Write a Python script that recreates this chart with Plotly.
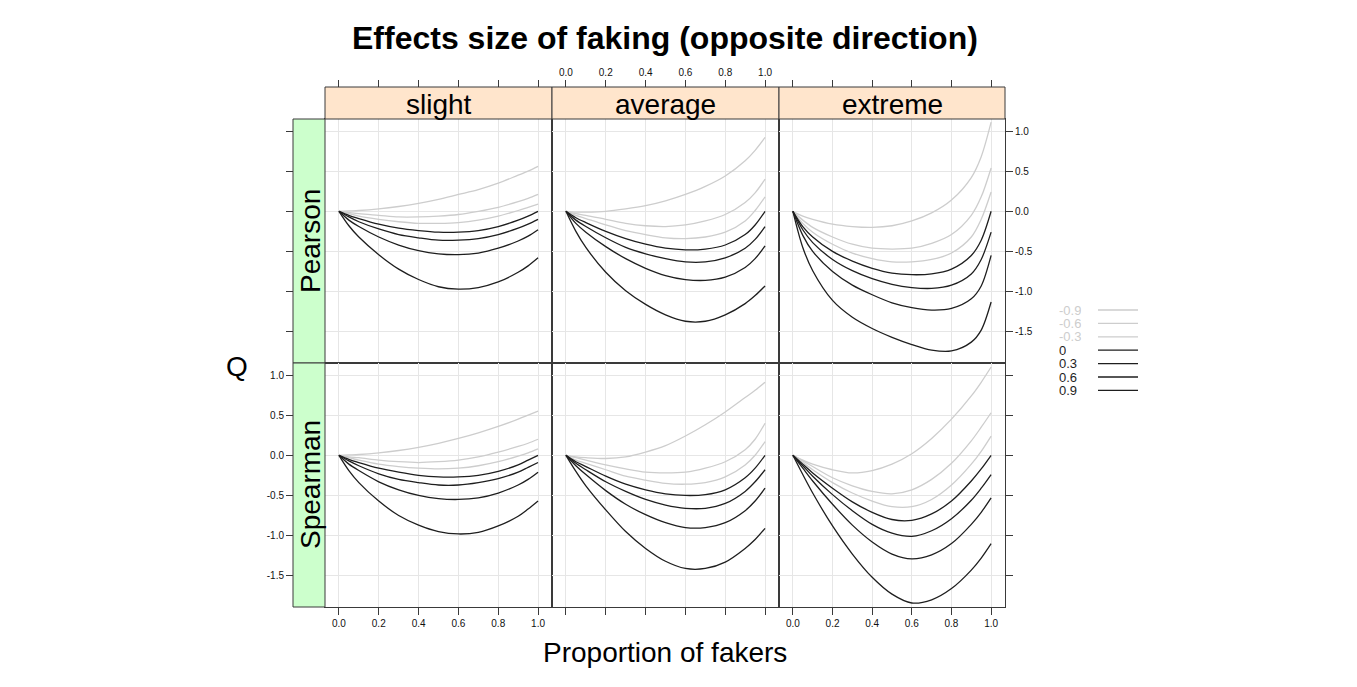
import plotly.graph_objects as go

W, H = 1357, 687
OFF = 8  # default page body margin
WF, HF = W - 2 * OFF, H - 2 * OFF

# ---------------- data ----------------
x_vals = [0, 0.05, 0.1, 0.2, 0.3, 0.4, 0.5, 0.6, 0.7, 0.8, 0.9, 0.95, 1.0]
levels = ["-0.9", "-0.6", "-0.3", "0", "0.3", "0.6", "0.9"]
columns = ["slight", "average", "extreme"]
rows = ["Pearson", "Spearman"]
x_ticks = [0.0, 0.2, 0.4, 0.6, 0.8, 1.0]
x_tick_text = ["0.0", "0.2", "0.4", "0.6", "0.8", "1.0"]
y_ticks = [-1.5, -1.0, -0.5, 0.0, 0.5, 1.0]
y_tick_text = ["-1.5", "-1.0", "-0.5", "0.0", "0.5", "1.0"]

# Pearson / slight
ps_n09 = [0, 0.005, 0.01, 0.03, 0.06, 0.10, 0.15, 0.21, 0.27, 0.35, 0.45, 0.50, 0.56]
ps_n06 = [0, -0.015, -0.03, -0.05, -0.07, -0.07, -0.06, -0.04, 0.0, 0.05, 0.12, 0.16, 0.21]
ps_n03 = [0, -0.03, -0.06, -0.10, -0.13, -0.15, -0.15, -0.14, -0.11, -0.06, 0.01, 0.05, 0.09]
ps_p00 = [0, -0.05, -0.09, -0.16, -0.21, -0.24, -0.26, -0.26, -0.24, -0.19, -0.11, -0.06, 0.0]
ps_p03 = [0, -0.07, -0.13, -0.22, -0.29, -0.33, -0.36, -0.36, -0.34, -0.29, -0.21, -0.16, -0.10]
ps_p06 = [0, -0.11, -0.19, -0.32, -0.42, -0.49, -0.53, -0.54, -0.52, -0.46, -0.37, -0.31, -0.23]
ps_p09 = [0, -0.18, -0.32, -0.54, -0.72, -0.85, -0.94, -0.97, -0.95, -0.88, -0.76, -0.68, -0.58]

# Pearson / average
pa_n09 = [0, -0.01, -0.01, 0.0, 0.03, 0.07, 0.13, 0.21, 0.31, 0.44, 0.63, 0.76, 0.92]
pa_n06 = [0, -0.03, -0.05, -0.10, -0.15, -0.18, -0.19, -0.17, -0.12, -0.04, 0.11, 0.23, 0.40]
pa_n03 = [0, -0.05, -0.09, -0.17, -0.24, -0.29, -0.33, -0.34, -0.32, -0.26, -0.12, 0.01, 0.18]
pa_p00 = [0, -0.08, -0.14, -0.25, -0.34, -0.41, -0.46, -0.48, -0.47, -0.42, -0.29, -0.17, 0.0]
pa_p03 = [0, -0.11, -0.19, -0.33, -0.45, -0.53, -0.59, -0.63, -0.63, -0.58, -0.46, -0.35, -0.19]
pa_p06 = [0, -0.15, -0.26, -0.44, -0.59, -0.71, -0.80, -0.85, -0.86, -0.82, -0.70, -0.59, -0.43]
pa_p09 = [0, -0.25, -0.45, -0.76, -0.99, -1.16, -1.29, -1.37, -1.37, -1.29, -1.15, -1.05, -0.93]

# Pearson / extreme
pe_n09 = [0, -0.06, -0.10, -0.16, -0.19, -0.20, -0.18, -0.12, -0.02, 0.14, 0.42, 0.68, 1.11]
pe_n06 = [0, -0.11, -0.20, -0.32, -0.41, -0.46, -0.47, -0.46, -0.40, -0.29, -0.05, 0.18, 0.54]
pe_n03 = [0, -0.15, -0.26, -0.41, -0.52, -0.59, -0.63, -0.63, -0.60, -0.52, -0.32, -0.10, 0.24]
pe_p00 = [0, -0.19, -0.32, -0.50, -0.62, -0.71, -0.77, -0.79, -0.78, -0.72, -0.55, -0.36, 0.0]
pe_p03 = [0, -0.23, -0.39, -0.60, -0.74, -0.84, -0.91, -0.95, -0.96, -0.92, -0.78, -0.60, -0.26]
pe_p06 = [0, -0.30, -0.50, -0.75, -0.92, -1.04, -1.14, -1.20, -1.23, -1.21, -1.09, -0.93, -0.55]
pe_p09 = [0, -0.45, -0.74, -1.11, -1.32, -1.46, -1.57, -1.66, -1.73, -1.74, -1.63, -1.48, -1.13]

# Spearman / slight
ss_n09 = [0, 0.005, 0.01, 0.03, 0.06, 0.10, 0.15, 0.21, 0.28, 0.36, 0.45, 0.50, 0.55]
ss_n06 = [0, -0.02, -0.03, -0.06, -0.08, -0.09, -0.08, -0.06, -0.02, 0.04, 0.11, 0.15, 0.20]
ss_n03 = [0, -0.03, -0.06, -0.11, -0.14, -0.16, -0.17, -0.16, -0.13, -0.08, -0.01, 0.03, 0.08]
ss_p00 = [0, -0.05, -0.09, -0.16, -0.21, -0.25, -0.27, -0.27, -0.25, -0.20, -0.12, -0.06, 0.0]
ss_p03 = [0, -0.07, -0.13, -0.23, -0.30, -0.34, -0.37, -0.37, -0.34, -0.29, -0.21, -0.15, -0.09]
ss_p06 = [0, -0.11, -0.19, -0.33, -0.43, -0.50, -0.54, -0.55, -0.53, -0.47, -0.37, -0.30, -0.21]
ss_p09 = [0, -0.19, -0.34, -0.57, -0.75, -0.87, -0.95, -0.98, -0.96, -0.88, -0.76, -0.67, -0.57]

# Spearman / average
sa_n09 = [0, -0.02, -0.03, -0.04, -0.02, 0.04, 0.12, 0.24, 0.38, 0.54, 0.72, 0.81, 0.91]
sa_n06 = [0, -0.03, -0.06, -0.12, -0.17, -0.21, -0.22, -0.21, -0.16, -0.08, 0.07, 0.20, 0.40]
sa_n03 = [0, -0.06, -0.10, -0.18, -0.26, -0.31, -0.35, -0.36, -0.34, -0.27, -0.12, 0.0, 0.17]
sa_p00 = [0, -0.08, -0.14, -0.26, -0.36, -0.43, -0.48, -0.50, -0.49, -0.43, -0.28, -0.16, 0.0]
sa_p03 = [0, -0.10, -0.18, -0.33, -0.45, -0.55, -0.62, -0.66, -0.66, -0.60, -0.45, -0.33, -0.18]
sa_p06 = [0, -0.13, -0.24, -0.44, -0.61, -0.74, -0.84, -0.90, -0.90, -0.84, -0.69, -0.57, -0.41]
sa_p09 = [0, -0.20, -0.38, -0.68, -0.95, -1.16, -1.32, -1.41, -1.41, -1.33, -1.16, -1.05, -0.91]

# Spearman / extreme
se_n09 = [0, -0.06, -0.11, -0.18, -0.22, -0.19, -0.11, 0.02, 0.21, 0.45, 0.74, 0.91, 1.10]
se_n06 = [0, -0.07, -0.14, -0.28, -0.38, -0.45, -0.48, -0.43, -0.30, -0.10, 0.18, 0.35, 0.53]
se_n03 = [0, -0.09, -0.18, -0.34, -0.47, -0.57, -0.64, -0.64, -0.55, -0.37, -0.11, 0.05, 0.24]
se_p00 = [0, -0.11, -0.22, -0.41, -0.58, -0.71, -0.80, -0.81, -0.73, -0.57, -0.32, -0.17, 0.0]
se_p03 = [0, -0.13, -0.26, -0.49, -0.69, -0.86, -0.97, -1.01, -0.94, -0.79, -0.56, -0.41, -0.24]
se_p06 = [0, -0.16, -0.32, -0.61, -0.87, -1.08, -1.23, -1.29, -1.24, -1.10, -0.86, -0.71, -0.53]
se_p09 = [0, -0.24, -0.47, -0.88, -1.23, -1.52, -1.73, -1.84, -1.80, -1.66, -1.43, -1.28, -1.10]

panel_series = {
    (0, 0): [ps_n09, ps_n06, ps_n03, ps_p00, ps_p03, ps_p06, ps_p09],
    (0, 1): [pa_n09, pa_n06, pa_n03, pa_p00, pa_p03, pa_p06, pa_p09],
    (0, 2): [pe_n09, pe_n06, pe_n03, pe_p00, pe_p03, pe_p06, pe_p09],
    (1, 0): [ss_n09, ss_n06, ss_n03, ss_p00, ss_p03, ss_p06, ss_p09],
    (1, 1): [sa_n09, sa_n06, sa_n03, sa_p00, sa_p03, sa_p06, sa_p09],
    (1, 2): [se_n09, se_n06, se_n03, se_p00, se_p03, se_p06, se_p09],
}

LIGHT = "#cdcdcd"
DARK = "#1e1e1e"
level_colors = [LIGHT, LIGHT, LIGHT, DARK, DARK, DARK, DARK]

# ---------------- geometry (page pixels) ----------------
col_px = [(325, 552), (552, 779), (779, 1005)]
row_px = [(119, 363), (363, 607)]
strip_top = 87
left_strip = (293, 325)
x_range = [-0.07, 1.07]
y_range = [-1.89, 1.15]

def fx(px):
    return (px - OFF) / WF

def fy(py):
    return 1 - (py - OFF) / HF

FONT = "Liberation Sans, Arial, Helvetica, sans-serif"
BORDER = "#3a3a3a"
GRID = "#e6e6e6"
TICKFONT = dict(size=10, family=FONT, color="#111")

fig = go.Figure()
layout = dict(
    width=WF, height=HF, autosize=False,
    margin=dict(l=0, r=0, t=0, b=0),
    paper_bgcolor="white", plot_bgcolor="white",
    showlegend=False,
    font=dict(family=FONT, color="black"),
)

for r in range(2):
    for c in range(3):
        k = r * 3 + c + 1
        xa = "xaxis" if k == 1 else f"xaxis{k}"
        ya = "yaxis" if k == 1 else f"yaxis{k}"
        xid = "x" if k == 1 else f"x{k}"
        yid = "y" if k == 1 else f"y{k}"
        layout[xa] = dict(
            domain=[fx(col_px[c][0]), fx(col_px[c][1])],
            anchor=yid, range=x_range, tickvals=x_ticks, ticktext=x_tick_text,
            showgrid=True, gridcolor=GRID, gridwidth=1, zeroline=False,
            showline=True, mirror=True, linecolor=BORDER, linewidth=1,
            ticks="outside" if r == 1 else "", ticklen=7, tickcolor=BORDER,
            showticklabels=(r == 1 and c != 1), tickfont=TICKFONT,
        )
        layout[ya] = dict(
            domain=[fy(row_px[r][1]), fy(row_px[r][0])],
            anchor=xid, range=y_range, tickvals=y_ticks, ticktext=y_tick_text,
            showgrid=True, gridcolor=GRID, gridwidth=1, zeroline=False,
            showline=True, mirror=True, linecolor=BORDER, linewidth=1,
            side="right" if c == 2 else "left",
            ticks="outside" if c == 2 else "", ticklen=7, tickcolor=BORDER,
            showticklabels=(c == 2 and r == 0), tickfont=TICKFONT,
        )
        for lvl, ys in enumerate(panel_series[(r, c)]):
            fig.add_trace(go.Scatter(
                x=x_vals, y=ys, mode="lines", xaxis=xid, yaxis=yid,
                line=dict(color=level_colors[lvl], width=1.3, shape="spline", smoothing=0.9),
                hoverinfo="skip", showlegend=False, name=levels[lvl],
            ))

# top tick axes (overlaying top-row x axes, placed above strips)
for c in range(3):
    k = 7 + c
    base = "x" if c == 0 else f"x{c + 1}"
    base_y = "y" if c == 0 else f"y{c + 1}"
    layout[f"xaxis{k}"] = dict(
        overlaying=base, anchor="free", position=fy(strip_top), side="top",
        domain=[fx(col_px[c][0]), fx(col_px[c][1])],
        range=x_range, tickvals=x_ticks, ticktext=x_tick_text,
        showgrid=False, zeroline=False, showline=False,
        ticks="outside", ticklen=7, tickcolor=BORDER,
        showticklabels=(c == 1), tickfont=TICKFONT,
    )
    fig.add_trace(go.Scatter(x=[None], y=[None], xaxis=f"x{k}", yaxis=base_y,
                             mode="lines", hoverinfo="skip", showlegend=False))

# left tick axes (overlaying first-column y axes, placed left of the green strip)
for r in range(2):
    k = 7 + r
    base = "y" if r == 0 else "y4"
    base_x = "x" if r == 0 else "x4"
    layout[f"yaxis{k}"] = dict(
        overlaying=base, anchor="free", position=fx(left_strip[0]), side="left",
        domain=[fy(row_px[r][1]), fy(row_px[r][0])],
        range=y_range, tickvals=y_ticks, ticktext=y_tick_text,
        showgrid=False, zeroline=False, showline=False,
        ticks="outside", ticklen=7, tickcolor=BORDER,
        showticklabels=(r == 1), tickfont=TICKFONT,
    )
    fig.add_trace(go.Scatter(x=[None], y=[None], xaxis=base_x, yaxis=f"y{k}",
                             mode="lines", hoverinfo="skip", showlegend=False))

shapes = []
annotations = []
STRIP_FONT = dict(size=28, family=FONT, color="black")

# top strips
for c, name in enumerate(columns):
    shapes.append(dict(type="rect", xref="paper", yref="paper",
                       x0=fx(col_px[c][0]), x1=fx(col_px[c][1]),
                       y0=fy(row_px[0][0]), y1=fy(strip_top),
                       fillcolor="#ffe5cc", line=dict(color=BORDER, width=1)))
    annotations.append(dict(text=name, xref="paper", yref="paper",
                            x=fx((col_px[c][0] + col_px[c][1]) / 2),
                            y=fy((strip_top + row_px[0][0]) / 2 + 1),
                            showarrow=False, xanchor="center", yanchor="middle",
                            font=STRIP_FONT))

# left strips
for r, name in enumerate(rows):
    shapes.append(dict(type="rect", xref="paper", yref="paper",
                       x0=fx(left_strip[0]), x1=fx(left_strip[1]),
                       y0=fy(row_px[r][1]), y1=fy(row_px[r][0]),
                       fillcolor="#ccffcc", line=dict(color=BORDER, width=1)))
    annotations.append(dict(text=name, xref="paper", yref="paper",
                            x=fx((left_strip[0] + left_strip[1]) / 2 + 1),
                            y=fy((row_px[r][0] + row_px[r][1]) / 2),
                            showarrow=False, xanchor="center", yanchor="middle",
                            textangle=-90, font=STRIP_FONT))

# title and axis titles
annotations.append(dict(text="<b>Effects size of faking (opposite direction)</b>",
                        xref="paper", yref="paper", x=fx(665), y=fy(38),
                        showarrow=False, xanchor="center", yanchor="middle",
                        font=dict(size=32, family=FONT, color="black")))
annotations.append(dict(text="Proportion of fakers", xref="paper", yref="paper",
                        x=fx(665), y=fy(652), showarrow=False,
                        xanchor="center", yanchor="middle",
                        font=dict(size=28, family=FONT, color="black")))
annotations.append(dict(text="Q", xref="paper", yref="paper",
                        x=fx(237), y=fy(366), showarrow=False,
                        xanchor="center", yanchor="middle",
                        font=dict(size=28, family=FONT, color="black")))

# legend (key)
leg_top = 310
leg_step = 13.4
for i, lab in enumerate(levels):
    yy = leg_top + i * leg_step
    annotations.append(dict(text=lab, xref="paper", yref="paper",
                            x=fx(1057), y=fy(yy), showarrow=False,
                            xanchor="left", yanchor="middle", height=13,
                            font=dict(size=13, family=FONT, color=level_colors[i])))
    shapes.append(dict(type="line", xref="paper", yref="paper",
                       x0=fx(1098), x1=fx(1138), y0=fy(yy), y1=fy(yy),
                       line=dict(color=level_colors[i], width=1.3)))

layout["shapes"] = shapes
layout["annotations"] = annotations
fig.update_layout(**layout)
fig.write_html("out.html")
